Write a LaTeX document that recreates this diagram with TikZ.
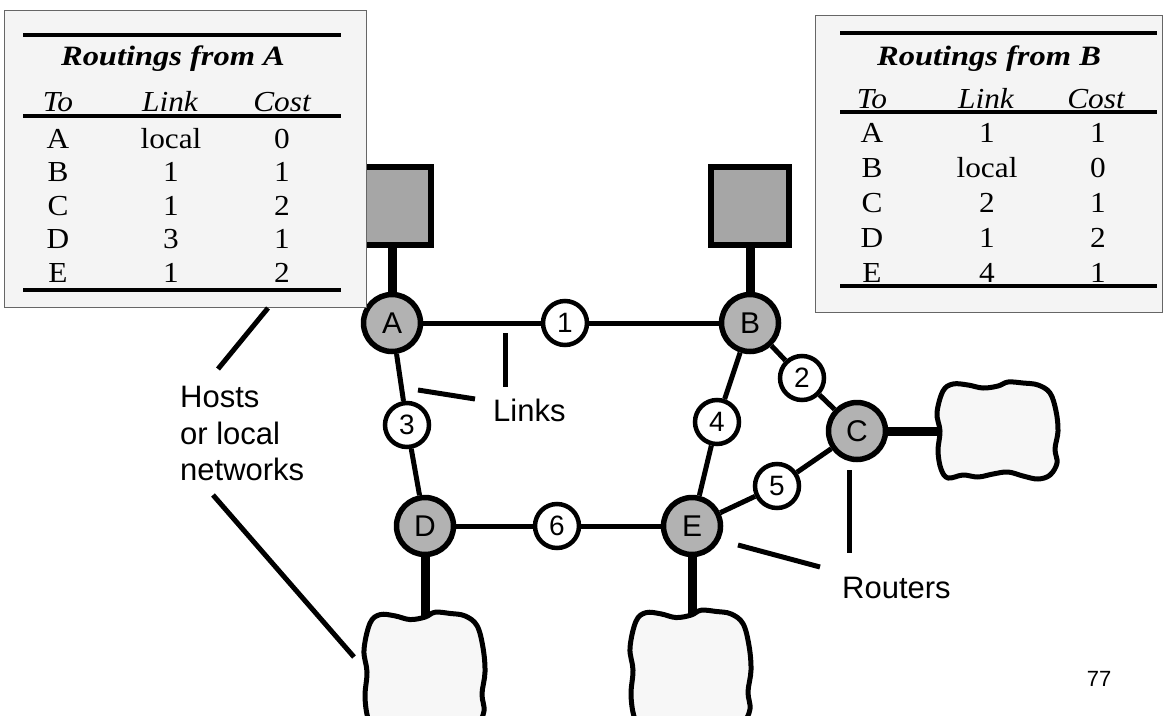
\documentclass[tikz,border=0pt]{standalone}
\usepackage{fontspec}
\setmainfont{Liberation Serif}
\setsansfont{Liberation Sans}

\definecolor{routergray}{HTML}{B2B2B2}
\definecolor{hostgray}{HTML}{A6A6A6}
\definecolor{netwhite}{HTML}{F7F7F7}
\definecolor{tablebg}{HTML}{F4F4F4}

\newcommand{\wide}[2][1.08]{\scalebox{#1}[1]{#2}}
\newcommand{\netcloud}[3]{%
  \draw[net, shift={(#1,#2)}, yscale=#3] plot[smooth cycle, tension=0.6] coordinates
    {(-55,-40) (-45,-47) (-30,-46) (-15,-43) (0,-45) (10,-49) (25,-48) (40,-46) (52,-38)
     (58,-20) (60,0) (57,18) (59,32) (52,44) (40,48) (25,45) (10,41) (-5,43) (-20,46)
     (-35,44) (-50,47) (-57,38) (-60,20) (-58,0) (-61,-18)};}

\begin{document}
\begin{tikzpicture}[x=1pt, y=-1pt,
    router/.style = {draw, circle, line width=5.5pt, fill=routergray, minimum size=57pt, inner sep=0pt, font=\fontsize{30}{30}\sffamily},
    lnk/.style = {draw, circle, line width=4.5pt, fill=white, minimum size=44pt, inner sep=0pt, font=\fontsize{28}{28}\sffamily},
    host/.style = {draw, rectangle, line width=6pt, fill=hostgray, minimum width=78pt, minimum height=78pt},
    net/.style = {line width=5pt, fill=netwhite, line join=round},
    wire/.style = {line width=5pt},
    hostwire/.style = {line width=9pt},
    leader/.style = {line width=5pt},
    lbl/.style = {font=\fontsize{31}{36.5}\sffamily, inner sep=0pt},
    tbox/.style = {draw=black!60, line width=1pt, fill=tablebg},
    rule/.style = {line width=3.5pt},
    cell/.style = {anchor=base, inner sep=0pt, font=\fontsize{29}{29}\selectfont},
    colhd/.style = {cell, font=\fontsize{29}{29}\itshape},
    ttl/.style = {cell, font=\fontsize{28}{28}\bfseries\itshape}]
  \clip (0,0) rectangle (1164,715);

  % routers and links
  \node [router] (A) at (392, 323) {A};
  \node [router] (B) at (750, 323) {B};
  \node [router] (C) at (857, 431) {C};
  \node [router] (D) at (425, 526) {D};
  \node [router] (E) at (692, 526) {E};

  \node [lnk] (l1) at (565, 323) {1};
  \node [lnk] (l2) at (802, 378) {2};
  \node [lnk] (l3) at (407, 425) {3};
  \node [lnk] (l4) at (717, 422) {4};
  \node [lnk] (l5) at (777, 486) {5};
  \node [lnk] (l6) at (557, 526) {6};

  \draw [wire] (A) -- (l1) -- (B);
  \draw [wire] (A) -- (l3) -- (D);
  \draw [wire] (D) -- (l6) -- (E);
  \draw [wire] (B) -- (l4) -- (E);
  \draw [wire] (B) -- (l2) -- (C);
  \draw [wire] (E) -- (l5) -- (C);

  % hosts and local networks
  \node [host] (hostA) at (392, 206) {};
  \node [host] (hostB) at (750, 206) {};
  \coordinate (netC) at (942, 431);
  \coordinate (netD) at (425, 618);
  \coordinate (netE) at (692, 616);

  \draw [hostwire] (A) -- (hostA);
  \draw [hostwire] (B) -- (hostB);
  \draw [hostwire] (C) -- (netC);
  \draw [hostwire] (D) -- (netD);
  \draw [hostwire] (E) -- (netE);

  \netcloud{998}{431}{1}
  \netcloud{425}{672}{1.22}
  \netcloud{691}{670}{1.22}

  % routing table of A
  \draw [tbox] (4,10) rectangle (366,307);
  \draw [rule] (23,35) -- (341,35);
  \draw [rule] (23,116) -- (341,116);
  \draw [rule] (23,290) -- (341,290);
  \node [ttl] (ttlA) at (173,65) {\wide[1.16]{Routings from A}};
  \node [colhd] (toA) at (58,111) {\wide{To}};
  \node [colhd] (lkA) at (170,111) {\wide{Link}};
  \node [colhd] (csA) at (282,111) {\wide{Cost}};
  \foreach \dst/\lnk/\cst [count=\i] in {A/local/0, B/1/1, C/1/2, D/3/1, E/1/2}
           {
             \node [cell] (ta\i) at (58, 114.5+33.5*\i) {\wide{\dst}};
             \node [cell] (la\i) at (171, 114.5+33.5*\i) {\wide{\lnk}};
             \node [cell] (ca\i) at (282, 114.5+33.5*\i) {\wide{\cst}};
           }

  % routing table of B
  \draw [tbox] (815,15) rectangle (1162,312);
  \draw [rule] (840,33) -- (1157,33);
  \draw [rule] (840,112) -- (1157,112);
  \draw [rule] (840,286) -- (1157,286);
  \node [ttl] (ttlB) at (989,65) {\wide[1.16]{Routings from B}};
  \node [colhd] (toB) at (872,108) {\wide{To}};
  \node [colhd] (lkB) at (986,108) {\wide{Link}};
  \node [colhd] (csB) at (1096,108) {\wide{Cost}};
  \foreach \dst/\lnk/\cst [count=\i] in {A/1/1, B/local/0, C/2/1, D/1/2, E/4/1}
           {
             \node [cell] (tb\i) at (872, 108+34.8*\i) {\wide{\dst}};
             \node [cell] (lb\i) at (987, 108+34.8*\i) {\wide{\lnk}};
             \node [cell] (cb\i) at (1098, 108+34.8*\i) {\wide{\cst}};
           }

  % labels with their leaders
  \node [lbl, anchor=base west] (links) at (493,421) {Links};
  \coordinate (lk1a) at (505,333);
  \coordinate (lk1b) at (505,387);
  \coordinate (lk2a) at (418,390);
  \coordinate (lk2b) at (475,399);
  \draw [leader] (lk1a) -- (lk1b);
  \draw [leader] (lk2a) -- (lk2b);

  \node [lbl, anchor=base west] (routers) at (842,598) {Routers};
  \coordinate (rt1a) at (849,470);
  \coordinate (rt1b) at (849,553);
  \coordinate (rt2a) at (738,545);
  \coordinate (rt2b) at (820,567);
  \draw [leader] (rt1a) -- (rt1b);
  \draw [leader] (rt2a) -- (rt2b);

  \node [lbl, anchor=north west, align=left] (hosts) at (180,386) {Hosts\\or local\\networks};
  \coordinate (hs1a) at (268,308);
  \coordinate (hs1b) at (218,369);
  \coordinate (hs2a) at (213,495);
  \coordinate (hs2b) at (354,657);
  \draw [leader] (hs1a) -- (hs1b);
  \draw [leader] (hs2a) -- (hs2b);

  \node [inner sep=0pt, anchor=base, font=\fontsize{22}{22}\sffamily] (page) at (1099,686) {77};
\end{tikzpicture}
\end{document}
